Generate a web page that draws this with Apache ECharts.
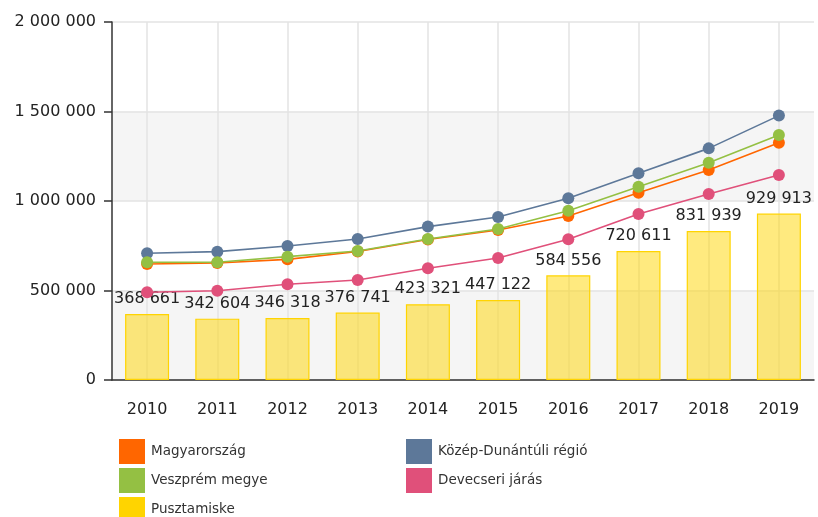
<!DOCTYPE html>
<html>
<head>
<meta charset="utf-8">
<script src="https://cdn.jsdelivr.net/npm/echarts@6/dist/echarts.min.js"></script>
<style>html,body{margin:0;padding:0;background:#fff}#c{width:818px;height:517px}</style>
</head>
<body>
<div id="c"></div>
<script>
const years = ['2010','2011','2012','2013','2014','2015','2016','2017','2018','2019'];
const yTicks = [0, 500000, 1000000, 1500000, 2000000];
const magyarorszag = [648000, 654000, 674000, 718000, 785000, 838000, 916000, 1046000, 1173000, 1326000];
const kozepDunantuli = [708000, 717000, 749000, 788000, 857000, 911000, 1015000, 1155000, 1294000, 1477000];
const veszprem = [658000, 658000, 689000, 721000, 788000, 844000, 946000, 1080000, 1214000, 1369000];
const devecseri = [490000, 499000, 535000, 559000, 624000, 682000, 786000, 927000, 1039000, 1145000];
const pusztamiske = [368661, 342604, 346318, 376741, 423321, 447122, 584556, 720611, 831939, 929913];

const fmt = v => String(Math.round(v)).replace(/\B(?=(\d{3})+(?!\d))/g, ' ');
const font = 'DejaVu Sans, Verdana, sans-serif';

const chart = echarts.init(document.getElementById('c'), null, {renderer: 'canvas'});
function line(name, data, color) {
  return {
    name, type: 'line', data, z: 5,
    symbol: 'circle', symbolSize: 12, showSymbol: true,
    lineStyle: {color, width: 1.6},
    itemStyle: {color},
    emphasis: {disabled: true}
  };
}
const legendBase = {
  orient: 'vertical', top: 439, height: 120, padding: 0, itemWidth: 26, itemHeight: 25, itemGap: 4,
  icon: 'rect', textStyle: {fontSize: 13.5, color: '#333', fontFamily: font, padding: [0, 0, 0, 1]}, selectedMode: false
};
chart.setOption({
  animation: false,
  textStyle: {fontFamily: font},
  grid: {left: 112, right: 4, top: 22, bottom: 137, containLabel: false},
  legend: [
    Object.assign({}, legendBase, {
      left: 119,
      data: ['Magyarország', 'Veszprém megye', {name: 'Pusztamiske', itemStyle: {color: '#ffd400', borderWidth: 0}}]
    }),
    Object.assign({}, legendBase, {
      left: 406,
      data: ['Közép-Dunántúli régió', 'Devecseri járás']
    })
  ],
  xAxis: {
    type: 'category', data: years, boundaryGap: true,
    axisLine: {lineStyle: {color: '#333', width: 1.5}},
    axisTick: {alignWithLabel: true, length: 7, lineStyle: {color: '#333', width: 1.5}},
    axisLabel: {margin: 22, fontSize: 16, color: '#222', fontFamily: font},
    splitLine: {show: true, alignWithLabel: true, lineStyle: {color: '#e3e3e3', width: 1.5}}
  },
  yAxis: {
    type: 'value', min: yTicks[0], max: yTicks[yTicks.length - 1], interval: 500000,
    axisLine: {show: true, lineStyle: {color: '#333', width: 1.5}},
    axisTick: {show: true, length: 8, lineStyle: {color: '#333', width: 1.5}},
    axisLabel: {margin: 16, fontSize: 16, color: '#222', fontFamily: font, formatter: v => fmt(v)},
    splitLine: {show: true, lineStyle: {color: '#e3e3e3', width: 1.5}},
    splitArea: {show: true, areaStyle: {color: ['#f5f5f5', '#ffffff']}}
  },
  series: [
    line('Magyarország', magyarorszag, '#ff6600'),
    line('Közép-Dunántúli régió', kozepDunantuli, '#5d7899'),
    line('Veszprém megye', veszprem, '#94c043'),
    line('Devecseri járás', devecseri, '#e0507a'),
    {
      name: 'Pusztamiske', type: 'bar', data: pusztamiske, barWidth: 44, z: 2,
      itemStyle: {color: 'rgba(255,214,0,0.5)', borderColor: '#ffd400', borderWidth: 1.2},
      label: {show: true, position: 'top', distance: 7, fontSize: 16, color: '#222', fontFamily: font, formatter: p => fmt(p.value)},
      emphasis: {disabled: true}
    }
  ],
  color: ['#ff6600', '#5d7899', '#94c043', '#e0507a', '#ffd400']
});
</script>
</body>
</html>
